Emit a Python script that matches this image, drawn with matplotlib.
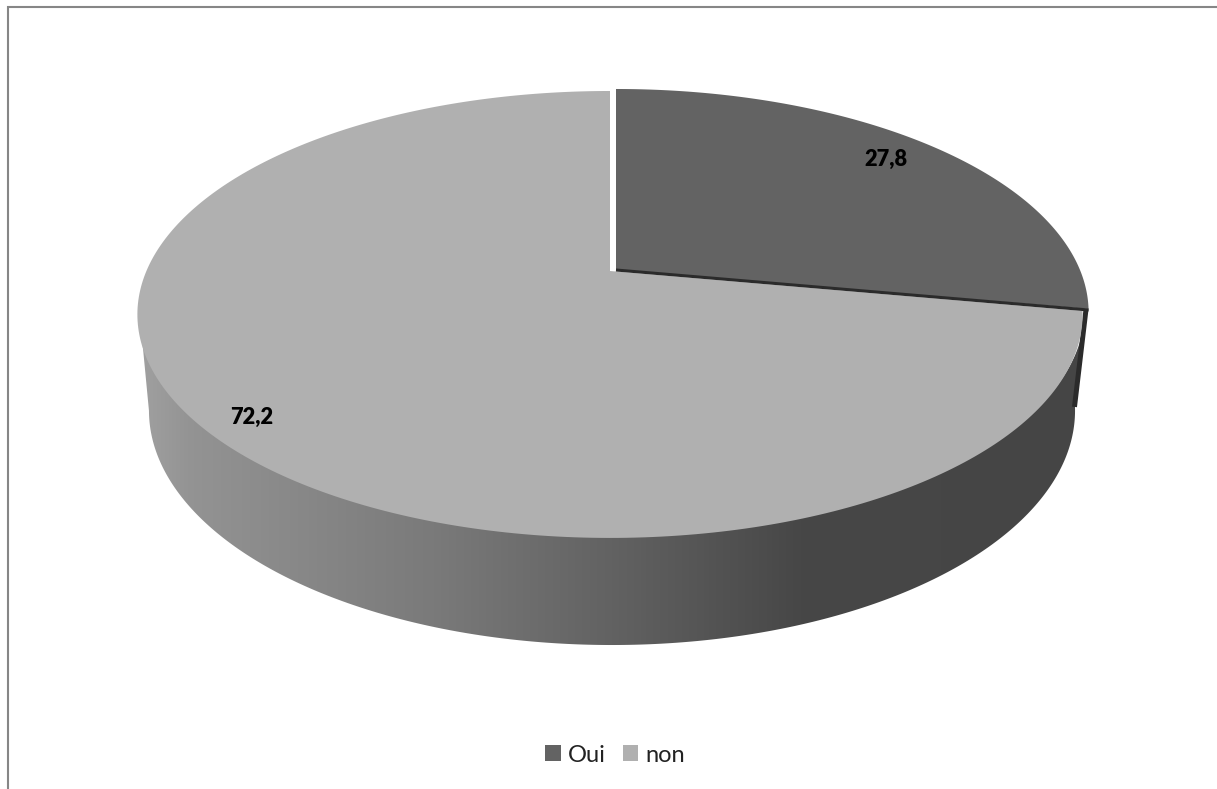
import numpy as np
import matplotlib
matplotlib.use('Agg')
import matplotlib.pyplot as plt
from matplotlib.colors import LinearSegmentedColormap
from matplotlib.patches import Patch, Polygon

labels = ['Oui', 'non']
values = [27.8, 72.2]
value_text = ['27,8', '72,2']
colors = ['#636363', '#b0b0b0']

plt.rcParams['font.family'] = ['Lato', 'DejaVu Sans']

W, H = 1217, 789
CX, CY = 612, 271


# cercle incline: perspective simple, t en degres depuis le haut (sens horaire)
def top_pt(t, dx=0, dy=0):
    t = np.radians(t)
    u, v = np.sin(t), np.cos(t)
    d = 1 + 0.19 * v
    return CX + dx + 464 * u / d, CY + dy - 215.4 * v / d


def bottom_pt(t, dx=0, dy=0):
    t = np.radians(t)
    u, v = np.sin(t), np.cos(t)
    d = 1 + 0.19 * v
    return CX + dx + 454.6 * u / d, 366 + dy - 226 * v / d


def arc(f, a, b, **kw):
    x, y = f(np.linspace(a, b, 300), **kw)
    return np.column_stack([x, y])


fig = plt.figure(figsize=(W / 100, H / 100), dpi=100)
ax = fig.add_axes([0, 0, 1, 1])
ax.set_xlim(0, W)
ax.set_ylim(H, 0)
ax.axis('off')

# cadre du graphique (pas de bord droit ni bas)
ax.plot([8, 8, W], [H, 6.5, 6.5], color='#868686', lw=1.5, solid_joinstyle='miter')

split = values[0] / sum(values) * 360

# paroi laterale en degrade, le haut passe sous la face superieure
side = np.vstack([arc(bottom_pt, split, 259), arc(top_pt, 259, split, dy=-3)])
grad = LinearSegmentedColormap.from_list('side', [
    (0.00, '#a0a0a0'), (0.055, '#939393'), (0.31, '#7a7a7a'),
    (0.50, '#626262'), (0.70, '#474747'), (1.00, '#454545')])
img = ax.imshow(np.linspace(0, 1, 512)[None, :], cmap=grad, aspect='auto',
                extent=[side[:, 0].min(), side[:, 0].max(), H, 0], zorder=1)
clip = Polygon(side, closed=True, transform=ax.transData, fc='none', ec='none')
ax.add_patch(clip)
img.set_clip_path(clip)
ax.set_xlim(0, W)
ax.set_ylim(H, 0)

# face superieure: la part "non" reste au centre
off_dark = dict(dx=4, dy=-1)
off_light = dict(dx=-2, dy=1)
light = np.vstack([[top_pt(split, **off_light)], arc(top_pt, split, 360, **off_light), [[CX - 2, CY]]])
ax.add_patch(Polygon(light, closed=True, fc=colors[1], ec='none', zorder=3))

# parois sombres de la part "Oui"
rim = top_pt(split, **off_dark)
foot = bottom_pt(split)
ax.plot([rim[0] - 2.5, foot[0] - 0.5], [rim[1], foot[1]], color='#2b2b2b', lw=3.6, zorder=2.5, solid_capstyle='butt')

dark = np.vstack([[[CX + 4, CY - 1]], arc(top_pt, 0, split, **off_dark)])
ax.add_patch(Polygon(dark, closed=True, fc=colors[0], ec='none', zorder=3))
ax.plot([CX + 4, rim[0]], [CY - 1, rim[1] + 1], color='#2b2b2b', lw=2.2, zorder=4, solid_capstyle='butt')

ax.text(885.5, 159, value_text[0], fontsize=15.7, fontweight='heavy', color='black', ha='center', va='center', zorder=5)
ax.text(251.5, 417, value_text[1], fontsize=15.7, fontweight='heavy', color='black', ha='center', va='center', zorder=5)

handles = [Patch(fc=c, ec='none') for c in colors]
ax.legend(handles, labels, ncol=2, loc='center', bbox_to_anchor=(615 / W, 1 - 755 / H),
          frameon=False, fontsize=17, handlelength=0.66, handleheight=0.66,
          handletextpad=0.3, columnspacing=0.72, labelcolor='#222222')

fig.savefig('out.png', dpi=100)
